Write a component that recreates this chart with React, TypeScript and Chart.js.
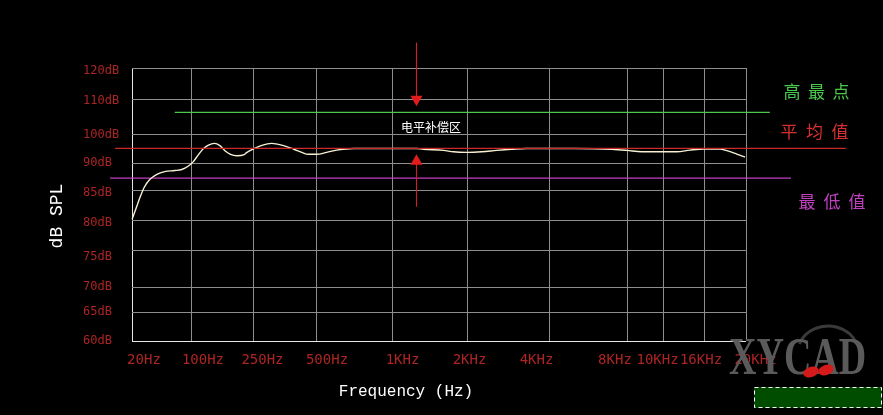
import React, { useEffect, useRef } from 'react';
import { Chart, registerables, LinearScale } from 'chart.js';

Chart.register(...registerables);

// ---------- data ----------
const freqTickHz = [20, 100, 250, 500, 1000, 2000, 4000, 8000, 10000, 16000, 20000];
const freqTickLabels = ['20Hz', '100Hz', '250Hz', '500Hz', '1KHz', '2KHz', '4KHz', '8KHz', '10KHz', '16KHz', '20KHz'];
const splTickDb = [60, 65, 70, 75, 80, 85, 90, 100, 110, 120];
const splTickLabels = ['60dB', '65dB', '70dB', '75dB', '80dB', '85dB', '90dB', '100dB', '110dB', '120dB'];

const responseHz = [
  20, 22, 25, 28, 32, 39, 48, 63, 76, 90, 102, 110, 118, 128, 140, 152, 164, 177, 196, 219, 227, 251,
  275, 306, 341, 387, 424, 455, 500, 547, 600, 650, 700, 1000, 1250, 1330, 1600, 1750, 1980, 2250,
  2560, 2900, 3300, 5000, 7000, 8000, 8740, 10000, 11600, 13570, 15900, 17420, 18050, 19030, 19900,
];
const responseDb = [
  80.1, 81.7, 83.9, 85.6, 86.9, 87.9, 88.4, 88.6, 88.8, 89.4, 90.5, 92.9, 95.0, 96.4, 97.0, 96.2, 94.4, 93.2, 92.6, 93.0, 93.7, 95.0,
  96.3, 97.0, 96.4, 95.0, 93.8, 93.1, 93.1, 93.8, 94.6, 95.0, 95.2, 95.2, 95.2, 94.9, 94.5, 94.0, 93.8, 94.0,
  94.5, 94.9, 95.2, 95.2, 94.9, 94.5, 94.0, 94.0, 94.0, 94.6, 95.0, 95.0, 94.4, 93.2, 92.1,
];

const maxLevelDb = 106.3;
const avgLevelDb = 95.2;
const minLevelDb = 87.2;
const maxLineHz = [63, 22700];
const avgLineHz = [12.7, 34000];
const minLineHz = [11.1, 25400];

const compensationHz = 1250;
const downArrowDb = [128.1, 109.9];
const upArrowDb = [82.2, 90.6];

// ---------- axis geometry (uneven, hand-drawn grid) ----------
type AxisMap = { stops: number[]; fractions: number[]; log: boolean };
const AXIS_MAPS: Record<string, AxisMap> = {
  x: { stops: freqTickHz, fractions: [0, 0.0977, 0.1971, 0.3013, 0.4235, 0.5472, 0.6792, 0.8062, 0.8664, 0.9316, 1], log: true },
  xTicks: { stops: freqTickHz, fractions: [0.0195, 0.1156, 0.2125, 0.3176, 0.4406, 0.5497, 0.6588, 0.7866, 0.8559, 0.9267, 1.0155], log: true },
  y: { stops: splTickDb, fractions: [0, 0.1026, 0.1978, 0.3297, 0.4432, 0.5531, 0.652, 0.7546, 0.8864, 1], log: false },
  yTicks: { stops: splTickDb, fractions: [0, 0.1062, 0.1978, 0.3077, 0.4322, 0.5421, 0.652, 0.7546, 0.8791, 0.989], log: false },
};

function toFraction(m: AxisMap, v: number): number {
  const s = m.stops, f = m.fractions, n = s.length;
  const tr = (a: number) => (m.log ? Math.log(a) : a);
  let i = 0;
  if (v <= s[0]) i = 0;
  else if (v >= s[n - 1]) i = n - 2;
  else while (i < n - 2 && v > s[i + 1]) i++;
  const t = (tr(v) - tr(s[i])) / (tr(s[i + 1]) - tr(s[i]));
  return f[i] + t * (f[i + 1] - f[i]);
}
function fromFraction(m: AxisMap, d: number): number {
  const s = m.stops, f = m.fractions, n = s.length;
  let i = 0;
  if (d <= f[0]) i = 0;
  else if (d >= f[n - 1]) i = n - 2;
  else while (i < n - 2 && d > f[i + 1]) i++;
  const t = (d - f[i]) / (f[i + 1] - f[i]);
  if (m.log) return Math.exp(Math.log(s[i]) + t * (Math.log(s[i + 1]) - Math.log(s[i])));
  return s[i] + t * (s[i + 1] - s[i]);
}

class PiecewiseScale extends LinearScale {
  static id = 'piecewise';
  static defaults = { ticks: { callback: (v: any) => String(v) } };
  buildTicks() {
    const m = AXIS_MAPS[(this as any).id];
    (this as any).start = (this as any).min;
    (this as any).end = (this as any).max;
    return m.stops.map((value) => ({ value }));
  }
  getPixelForValue(value: number) {
    if (value === null || value === undefined || isNaN(value)) return NaN;
    return this.getPixelForDecimal(toFraction(AXIS_MAPS[(this as any).id], value));
  }
  getValueForPixel(pixel: number) {
    return fromFraction(AXIS_MAPS[(this as any).id], this.getDecimalForPixel(pixel));
  }
}
Chart.register(PiecewiseScale as any);

// ---------- colours ----------
const GRID = '#8e8e8e';
const AXIS_WHITE = '#e8e8e8';
const TICK_RED = '#ad2424';
const CURVE = '#f7f0d2';
const AVG_RED = '#cc2a2a';
const MAX_GREEN = '#4cc84c';
const MIN_PURPLE = '#c040c0';
const ARROW_RED = '#e21c1c';

const decorPlugin = {
  id: 'decor',
  afterDraw(chart: any) {
    const ctx: CanvasRenderingContext2D = chart.ctx;
    ctx.save();
    // centre annotation
    ctx.fillStyle = '#ffffff';
    ctx.font = '12px "Noto Sans CJK SC"';
    ctx.textAlign = 'center';
    ctx.textBaseline = 'middle';
    ctx.fillText('电平补偿区', 431, 127);

    // right side labels
    const drawSpaced = (text: string, x0: number, y: number, pitch: number, color: string) => {
      ctx.fillStyle = color;
      ctx.font = '17px "Noto Sans CJK SC"';
      [...text].forEach((ch, i) => ctx.fillText(ch, x0 + i * pitch, y));
    };
    drawSpaced('高最点', 792, 92, 24.5, MAX_GREEN);
    drawSpaced('平均值', 789, 132, 25.5, '#d83030');
    drawSpaced('最低值', 807, 202, 25, MIN_PURPLE);

    // axis titles
    ctx.fillStyle = '#ffffff';
    ctx.font = '16px "Liberation Mono"';
    ctx.fillText('Frequency (Hz)', 406, 392);
    ctx.save();
    ctx.translate(57, 216);
    ctx.rotate(-Math.PI / 2);
    ctx.font = '18px "Liberation Mono"';
    ctx.fillText('dB SPL', 0, 0);
    ctx.restore();

    // watermark logo
    ctx.save();
    ctx.strokeStyle = '#3a3a3a';
    ctx.lineWidth = 3;
    ctx.beginPath();
    ctx.ellipse(828, 352, 30, 26, 0, Math.PI * 1.1, Math.PI * 1.9);
    ctx.stroke();
    const g = ctx.createLinearGradient(0, 338, 0, 376);
    g.addColorStop(0, '#5a5a5a');
    g.addColorStop(0.5, '#2e2e2e');
    g.addColorStop(1, '#444444');
    ctx.fillStyle = g;
    ctx.font = 'bold 50px "Liberation Serif"';
    ctx.textAlign = 'left';
    ctx.textBaseline = 'alphabetic';
    ctx.translate(729, 374);
    ctx.scale(0.76, 1.05);
    ctx.fillText('XYCAD', 0, 0);
    ctx.restore();
    ctx.fillStyle = '#d41a1a';
    ctx.beginPath();
    ctx.ellipse(811, 372, 8, 5, -0.35, 0, Math.PI * 2);
    ctx.fill();
    ctx.beginPath();
    ctx.ellipse(826, 370, 8, 5, -0.35, 0, Math.PI * 2);
    ctx.fill();

    // green box
    ctx.fillStyle = '#004d00';
    ctx.fillRect(754, 387, 128, 21);
    ctx.strokeStyle = '#ffffff';
    ctx.lineWidth = 1;
    ctx.setLineDash([4, 3]);
    ctx.strokeRect(754.5, 387.5, 127, 20);
    ctx.restore();
  },
};

export default function App() {
  const ref = useRef<HTMLCanvasElement | null>(null);
  useEffect(() => {
    if (!ref.current) return;
    const pts = (xs: number[], ys: number[]) => xs.map((x, i) => ({ x, y: ys[i] }));
    const flat = (xs: number[], y: number) => xs.map((x) => ({ x, y }));
    const chart = new Chart(ref.current, {
      type: 'line',
      data: {
        datasets: [
          {
            data: [{ x: compensationHz, y: downArrowDb[0] }, { x: compensationHz, y: downArrowDb[1] }],
            borderColor: ARROW_RED, borderWidth: 1, pointRadius: [0, 7], pointStyle: 'triangle',
            pointRotation: [0, 180], pointBackgroundColor: ARROW_RED, pointBorderWidth: 0, clip: false, order: 0,
          },
          {
            data: [{ x: compensationHz, y: upArrowDb[0] }, { x: compensationHz, y: upArrowDb[1] }],
            borderColor: ARROW_RED, borderWidth: 1, pointRadius: [0, 7], pointStyle: 'triangle',
            pointRotation: [0, 0], pointBackgroundColor: ARROW_RED, pointBorderWidth: 0, clip: false, order: 0,
          },
          { data: flat(avgLineHz, avgLevelDb), borderColor: AVG_RED, borderWidth: 1.2, pointRadius: 0, clip: false, order: 1 },
          {
            data: pts(responseHz, responseDb), borderColor: CURVE, borderWidth: 1.4, pointRadius: 0,
            cubicInterpolationMode: 'monotone', order: 2,
          },
          { data: flat(maxLineHz, maxLevelDb), borderColor: MAX_GREEN, borderWidth: 1.2, pointRadius: 0, clip: false, order: 3 },
          { data: flat(minLineHz, minLevelDb), borderColor: MIN_PURPLE, borderWidth: 1.2, pointRadius: 0, clip: false, order: 3 },
        ] as any,
      },
      options: {
        responsive: false,
        animation: false,
        events: [],
        layout: { padding: { left: 83, top: 68, right: 137, bottom: 0 } },
        plugins: { legend: { display: false }, tooltip: { enabled: false }, title: { display: false } },
        scales: {
          x: {
            type: 'piecewise', axis: 'x', position: 'bottom',
            grid: { color: (c: any) => (c.index === 0 ? AXIS_WHITE : GRID), lineWidth: 1, drawTicks: false },
            border: { display: false },
            ticks: { display: false },
            afterFit: (s: any) => { s.height = 0; },
          },
          xTicks: {
            type: 'piecewise', axis: 'x', position: 'bottom',
            grid: { display: false, drawTicks: false },
            border: { display: false },
            ticks: {
              color: TICK_RED, font: { family: '"DejaVu Sans Mono"', size: 14 }, padding: 11,
              autoSkip: false, maxRotation: 0, minRotation: 0,
              callback: (_v: any, i: number) => freqTickLabels[i],
            },
            afterFit: (s: any) => { s.height = 74; },
          },
          y: {
            type: 'piecewise', axis: 'y', position: 'left',
            grid: { color: (c: any) => (c.index === 0 ? AXIS_WHITE : GRID), lineWidth: 1, drawTicks: false },
            border: { display: false },
            ticks: { display: false },
            afterFit: (s: any) => { s.width = 0; },
          },
          yTicks: {
            type: 'piecewise', axis: 'y', position: 'left',
            grid: { display: false, drawTicks: false },
            border: { display: false },
            ticks: {
              color: TICK_RED, font: { family: '"DejaVu Sans Mono"', size: 12 }, crossAlign: 'far',
              autoSkip: false, callback: (_v: any, i: number) => splTickLabels[i],
            },
            afterFit: (s: any) => { s.width = 49; },
          },
        } as any,
      },
      plugins: [decorPlugin],
    } as any);
    return () => chart.destroy();
  }, []);

  return (
    <div style={{ position: 'fixed', left: 0, top: 0, width: 883, height: 415, background: '#000' }}>
      <canvas ref={ref} width={883} height={415} style={{ display: 'block', width: 883, height: 415 }} />
    </div>
  );
}
